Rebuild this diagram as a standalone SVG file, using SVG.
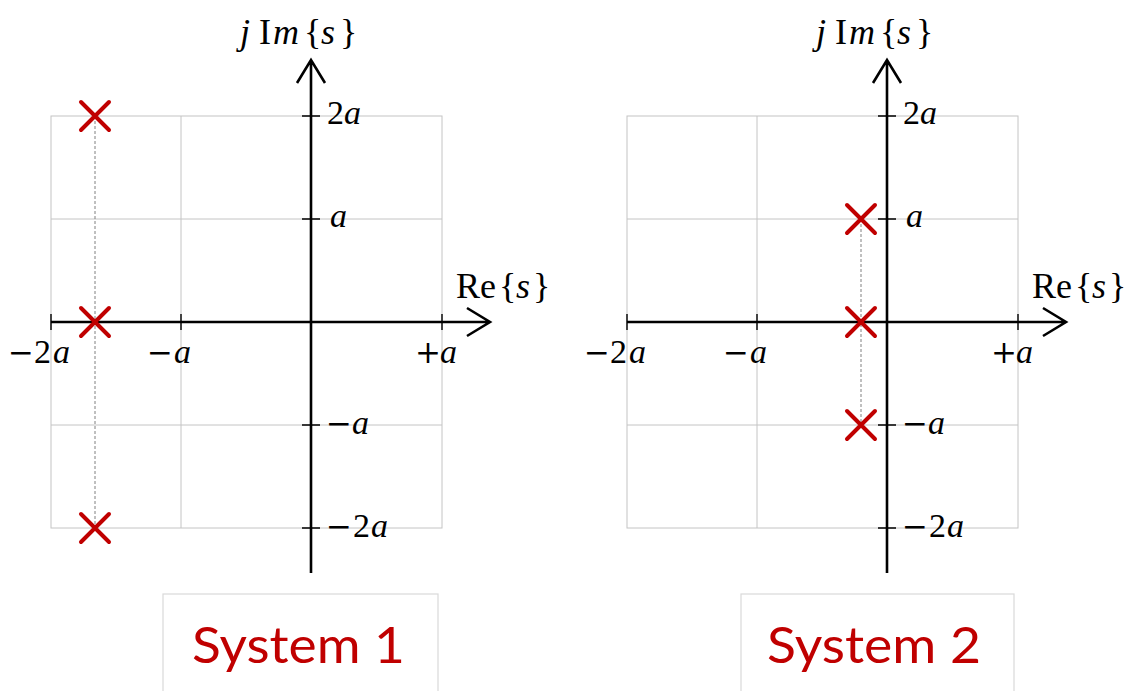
<svg xmlns="http://www.w3.org/2000/svg" xmlns:xlink="http://www.w3.org/1999/xlink" width="1133" height="691" viewBox="0 0 1133 691">
<style>
.grid{fill:none;stroke:#c4c4c4;stroke-width:1}
.axis{fill:none;stroke:#000;stroke-width:2.6}
.tick{stroke:#000;stroke-width:1.4}
.math{font-family:"Liberation Serif",serif;font-size:34px;fill:#000}
.big{font-size:36px}
.it{font-style:italic}
.op{font-family:"DejaVu Serif",serif;font-size:31px}
.pole{fill:none;stroke:#C00000;stroke-width:4;stroke-linecap:round}
.link{stroke:#808080;stroke-width:1;stroke-dasharray:3 2}
.box{fill:#fff;stroke:#d9d9d9;stroke-width:1.2}
.sys{font-family:Lato,"Liberation Sans",sans-serif;font-size:50px;fill:#C00000}
</style>
<defs>
<path id="x" class="pole" d="M-14,-14L14,14M14,-14L-14,14"/>
<g id="plane">
<rect class="grid" x="51" y="116" width="391" height="412"/>
<path class="grid" d="M181,116V528M51,219H442M51,425H442"/>
<path class="tick" d="M302,116H320M302,219H320M302,425H320M302,528H320M51,314V330M181,314V330M442,314V330"/>
<path class="axis" d="M51,322H490M467,308L490,322L467,336"/>
<path class="axis" d="M311,573V60M297,83L311,60L325,83"/>
<text class="math big" y="44"><tspan x="240" class="it">j</tspan><tspan x="259">I</tspan><tspan x="273" class="it">m</tspan><tspan x="304">{</tspan><tspan x="321" class="it">s</tspan><tspan x="340">}</tspan></text>
<text class="math big" y="298"><tspan x="456">R</tspan><tspan x="480">e</tspan><tspan x="499">{</tspan><tspan x="516" class="it">s</tspan><tspan x="533">}</tspan></text>
<text class="math" y="124"><tspan x="327">2</tspan><tspan x="344" class="it">a</tspan></text>
<text class="math" y="227"><tspan x="330" class="it">a</tspan></text>
<text class="math" y="434"><tspan x="326" class="op">−</tspan><tspan x="352" class="it">a</tspan></text>
<text class="math" y="537"><tspan x="326" class="op">−</tspan><tspan x="353">2</tspan><tspan x="371" class="it">a</tspan></text>
<text class="math" y="363"><tspan x="8" class="op">−</tspan><tspan x="34">2</tspan><tspan x="53" class="it">a</tspan></text>
<text class="math" y="363"><tspan x="147" class="op">−</tspan><tspan x="174" class="it">a</tspan></text>
<text class="math" y="363"><tspan x="415" class="op">+</tspan><tspan x="440" class="it">a</tspan></text>
</g>
</defs>
<g id="plot1"><use xlink:href="#plane"/></g>
<g id="plot2"><use xlink:href="#plane" transform="translate(576,0)"/></g>
<g id="connectors">
<line class="link" x1="95" y1="116" x2="95" y2="528"/>
<line class="link" x1="861" y1="219" x2="861" y2="425"/>
</g>
<g id="poles1">
<use xlink:href="#x" x="95" y="116"/>
<use xlink:href="#x" x="95" y="322"/>
<use xlink:href="#x" x="95" y="528"/>
</g>
<g id="poles2">
<use xlink:href="#x" x="861" y="219"/>
<use xlink:href="#x" x="861" y="322"/>
<use xlink:href="#x" x="861" y="425"/>
</g>
<g id="box1">
<rect class="box" x="163" y="594" width="275" height="110"/>
<text class="sys" x="192" y="663" textLength="213" lengthAdjust="spacingAndGlyphs">System 1</text>
</g>
<g id="box2">
<rect class="box" x="741" y="594" width="273" height="110"/>
<text class="sys" x="767" y="663" textLength="214" lengthAdjust="spacingAndGlyphs">System 2</text>
</g>
</svg>
